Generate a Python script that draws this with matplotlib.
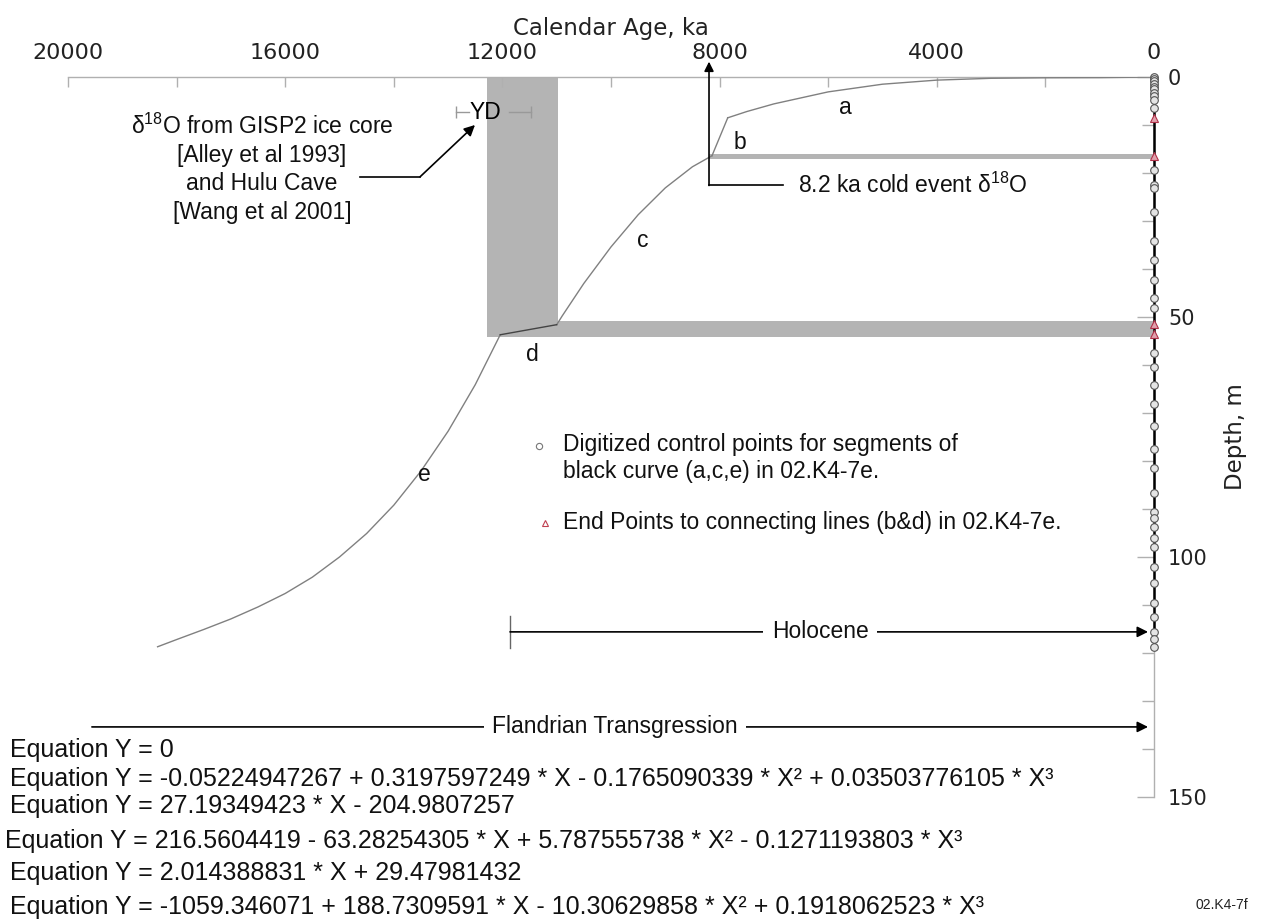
import matplotlib
matplotlib.use("Agg")
import matplotlib.pyplot as plt
from matplotlib import ticker

plt.rcParams["mathtext.fontset"] = "custom"
plt.rcParams["mathtext.rm"] = "Liberation Sans"
plt.rcParams["mathtext.it"] = "Liberation Sans"

# ---- values ----
age_ticks = [20000, 16000, 12000, 8000, 4000, 0]
age_tick_labels = ["20000", "16000", "12000", "8000", "4000", "0"]
depth_ticks = [0, 50, 100, 150]
depth_tick_labels = ["0", "50", "100", "150"]

# curve segments (age in years, depth in m)
seg_a_age = [0, 1000, 2000, 3000, 4000, 5000, 6000, 7000, 7500, 7850]
seg_a_depth = [0, 0.13, 0.16, 0.27, 0.65, 1.5, 3.1, 5.6, 7.2, 8.5]
seg_b_age = [7850, 8140]
seg_b_depth = [8.5, 16.4]
seg_c_age = [8140, 8500, 9000, 9500, 10000, 10500, 10900, 11000]
seg_c_depth = [16.4, 18.7, 23.1, 28.7, 35.4, 43.0, 49.8, 51.6]
seg_d_age = [11000, 12040]
seg_d_depth = [51.6, 53.7]
seg_e_age = [12040, 12500, 13000, 13500, 14000, 14500, 15000, 15500,
             16000, 16500, 17000, 17500, 18000, 18350]
seg_e_depth = [53.7, 64.1, 73.8, 82.1, 89.2, 95.1, 100.0, 104.2,
               107.6, 110.4, 112.9, 115.1, 117.2, 118.7]

control_depth = [0, 0.35, 0.9, 1.5, 2.0, 2.6, 3.3, 4.0, 4.7, 6.5,
                 19.4, 22.5, 23.2, 28.2, 34.1, 38.1, 42.3, 46.0, 48.2,
                 57.6, 60.4, 64.2, 68.1, 72.7, 77.4, 81.5, 86.6, 90.6,
                 91.9, 93.7, 96.1, 97.9, 102.0, 105.5, 109.6, 112.4,
                 115.6, 117.0, 118.7]
end_point_depth = [8.6, 16.4, 51.4, 53.6]

# shaded events
yd_age = [10980, 12280]
yd_depth = [0, 54.2]
event82_age = [0, 8195]
event82_depth = [16.0, 17.1]
lower_bar_age = [0, 12280]
lower_bar_depth = [50.8, 54.2]
yd_range = [11470, 12860]

holocene_start = 11860
flandrian_start = 19560

equations = [
    "Equation Y = 0",
    "Equation Y = -0.05224947267 + 0.3197597249 * X - 0.1765090339 * X\u00b2 + 0.03503776105 * X\u00b3",
    "Equation Y = 27.19349423 * X - 204.9807257",
    "Equation Y = 216.5604419 - 63.28254305 * X + 5.787555738 * X\u00b2 - 0.1271193803 * X\u00b3",
    "Equation Y = 2.014388831 * X + 29.47981432",
    "Equation Y = -1059.346071 + 188.7309591 * X - 10.30629858 * X\u00b2 + 0.1918062523 * X\u00b3",
]
eq_depth = [140.2, 146.3, 151.9, 159.2, 165.9, 173.0]
eq_age = [21070, 21070, 21070, 21160, 21070, 21070]

W, H = 1261, 921
fig = plt.figure(figsize=(W / 100, H / 100), dpi=100)
ax = fig.add_axes([68 / W, 1 - 797 / H, (1154 - 68) / W, (797 - 77) / H])
ax.set_xlim(20000, 0)
ax.set_ylim(150, 0)

axis_font = "DejaVu Sans"
txt_font = "Liberation Sans"
grey_axis = "#b0b0b0"
band = "#b4b4b4"
curve = "#808080"

for s in ["left", "bottom"]:
    ax.spines[s].set_visible(False)
for s in ["top", "right"]:
    ax.spines[s].set_color(grey_axis)
    ax.spines[s].set_linewidth(1.0)

ax.xaxis.tick_top()
ax.set_xticks(age_ticks)
ax.set_xticklabels(age_tick_labels, fontfamily=axis_font)
ax.xaxis.set_minor_locator(ticker.MultipleLocator(2000))
ax.tick_params(axis="x", which="both", direction="in", length=7.5, width=1,
               color=grey_axis, top=True, bottom=False, labeltop=True,
               labelbottom=False, pad=10, labelsize=16, labelcolor="#222222")

ax.yaxis.tick_right()
ax.set_yticks(depth_ticks)
ax.set_yticklabels(depth_tick_labels, fontfamily=axis_font)
ax.yaxis.set_minor_locator(ticker.MultipleLocator(10))
ax.tick_params(axis="y", which="major", direction="in", length=12, width=1,
               color=grey_axis, right=True, left=False, labelright=True,
               labelleft=False, pad=10, labelsize=15, labelcolor="#222222")
ax.tick_params(axis="y", which="minor", direction="in", length=8.5, width=1,
               color=grey_axis, right=True, left=False)

ax.xaxis.set_label_position("top")
ax.set_xlabel("Calendar Age, ka", fontfamily=axis_font, fontsize=16.5,
              labelpad=6, color="#222222")
ax.yaxis.set_label_position("right")
ax.set_ylabel("Depth, m", fontfamily=axis_font, fontsize=16.5, labelpad=12,
              rotation=90, color="#222222")

# shaded bands
ax.fill_betweenx(yd_depth, yd_age[0], yd_age[1], color=band, lw=0, zorder=1)
ax.fill_between(event82_age, event82_depth[0], event82_depth[1], color=band,
                lw=0, zorder=1)
ax.fill_between(lower_bar_age, lower_bar_depth[0], lower_bar_depth[1],
                color=band, lw=0, zorder=1)

# curve segments
for xs, ys in [(seg_a_age, seg_a_depth), (seg_b_age, seg_b_depth),
               (seg_c_age, seg_c_depth), (seg_e_age, seg_e_depth)]:
    ax.plot(xs, ys, color=curve, lw=1.0, zorder=3)
ax.plot(seg_d_age, seg_d_depth, color="#444444", lw=1.0, zorder=3)

# control points on the depth axis
ax.plot([0] * 2, [control_depth[0], control_depth[-1]], color="black", lw=1.8,
        zorder=4, clip_on=False)
ax.plot([0] * len(control_depth), control_depth, ls="none", marker="o", ms=5.5,
        mfc="#e4e4e4", mec="#555555", mew=0.8, zorder=5, clip_on=False)
ax.plot([0] * len(end_point_depth), end_point_depth, ls="none", marker="^", ms=5.5,
        mfc="#e0a0ac", mec="#b03048", mew=0.8, zorder=6, clip_on=False)

# YD marker
ax.plot([yd_range[1], 12620], [7.3, 7.3], color="#999999", lw=1, clip_on=False)
ax.plot([11880, yd_range[0]], [7.3, 7.3], color="#999999", lw=1, clip_on=False)
ax.plot(yd_range, [7.3, 7.3], ls="none", marker="|", ms=8, mec="#999999",
        mew=1, clip_on=False)
ax.text(12320, 7.3, "YD", fontfamily=txt_font, fontsize=16.5, ha="center",
        va="center", zorder=6)

tkw = dict(fontfamily=txt_font, fontsize=16.5, color="#111111")

ax.text(16430, 19.1,
        "\u03b4$^{18}$O from GISP2 ice core\n[Alley et al 1993]\nand Hulu Cave\n[Wang et al 2001]",
        ha="center", va="center", linespacing=1.3, **tkw)
ax.plot([14620, 13517], [20.8, 20.8], color="black", lw=1.2)
ax.annotate("", xy=(12505, 10.0), xytext=(13517, 20.8),
            arrowprops=dict(arrowstyle="-|>", color="black", lw=1.2,
                            mutation_scale=16, shrinkA=0, shrinkB=0))

# 8.2 ka event arrow
ax.plot([event82_age[1], 6832], [22.6, 22.6], color="black", lw=1.2)
ax.annotate("", xy=(event82_age[1], -3.2), xytext=(event82_age[1], 22.6),
            arrowprops=dict(arrowstyle="-|>", color="black", lw=1.2,
                            mutation_scale=14, shrinkA=0, shrinkB=0),
            annotation_clip=False)
ax.text(6560, 22.6, "8.2 ka cold event \u03b4$^{18}$O", ha="left",
        va="center", **tkw)

# segment labels
for lab, xa, yd in [("a", 5690, 6.3), ("b", 7620, 13.6), ("c", 9410, 34.0),
                    ("d", 11440, 57.9), ("e", 13430, 82.9)]:
    ax.text(xa, yd, lab, ha="center", va="center", **tkw)

# legend notes
ax.plot([11326], [76.9], ls="none", marker="o", ms=4.5, mfc="white",
        mec="#777777", mew=0.8)
ax.plot([11215], [92.9], ls="none", marker="^", ms=4.5, mfc="white",
        mec="#c04050", mew=0.8)
ax.text(10880, 79.4,
        "Digitized control points for segments of\nblack curve (a,c,e) in 02.K4-7e.",
        ha="left", va="center", linespacing=1.2, **tkw)
ax.text(10880, 92.9, "End Points to connecting lines (b&d) in 02.K4-7e.",
        ha="left", va="center", **tkw)

# Holocene / Flandrian arrows
akw = dict(arrowstyle="-|>", color="black", lw=1.2, mutation_scale=16,
           shrinkA=0, shrinkB=0)
ax.annotate("", xy=(110, 115.6), xytext=(holocene_start, 115.6), arrowprops=akw)
ax.plot([holocene_start, holocene_start], [112.3, 119.0], color="#666666", lw=1)
ax.text(6150, 115.6, "Holocene", ha="center", va="center",
        bbox=dict(fc="white", ec="none", pad=6), zorder=7, **tkw)
ax.annotate("", xy=(110, 135.4), xytext=(flandrian_start, 135.4),
            arrowprops=akw, annotation_clip=False)
ax.text(9926, 135.4, "Flandrian Transgression", ha="center", va="center",
        bbox=dict(fc="white", ec="none", pad=6), zorder=7, **tkw)

# equations
for s, xa, yd in zip(equations, eq_age, eq_depth):
    ax.text(xa, yd, s, ha="left", va="center", clip_on=False,
            fontfamily=txt_font, fontsize=18, color="#111111")

fig.text(1222 / W, 1 - 905 / H, "02.K4-7f", fontfamily=txt_font, fontsize=10,
         ha="center", va="center", color="#222222")

fig.savefig("out.png", dpi=100)
